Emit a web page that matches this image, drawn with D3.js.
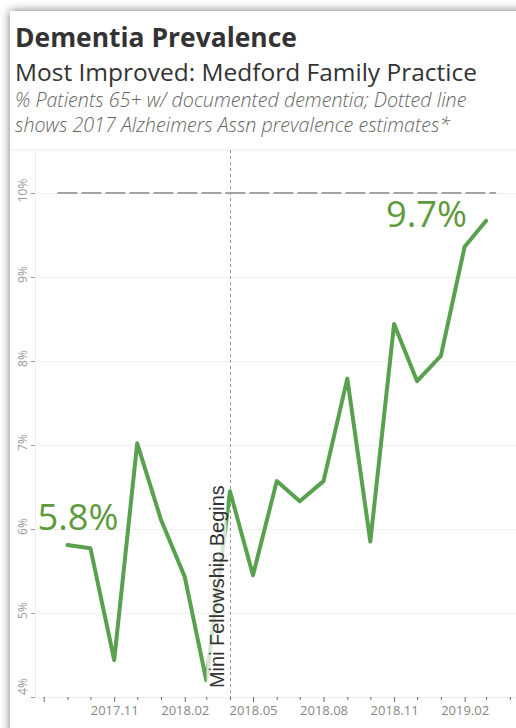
<!DOCTYPE html>
<meta charset="utf-8">
<script src="https://d3js.org/d3.v7.min.js"></script>
<style>
    body { margin: 0; background: #fff; overflow: hidden; }
    #card {
        position: absolute; left: 10px; top: 11px; width: 540px; height: 760px;
        background: #fff; box-shadow: 0 0 9px rgba(0,0,0,0.55);
    }
    #vis { position: absolute; left: 0; top: 0; }
</style>
<div id="card"></div>
<div id="vis"></div>
<script>
    // data
    var months = ["2017-09", "2017-10", "2017-11", "2017-12", "2018-01", "2018-02", "2018-03",
        "2018-04", "2018-05", "2018-06", "2018-07", "2018-08", "2018-09", "2018-10", "2018-11",
        "2018-12", "2019-01", "2019-02", "2019-03"];
    var prevalence = [5.81, 5.77, 4.44, 7.02, 6.11, 5.43, 4.20, 6.45, 5.45, 6.57, 6.33,
        6.57, 7.79, 5.85, 8.44, 7.76, 8.06, 9.36, 9.67];
    var yTicks = [4, 5, 6, 7, 8, 9, 10];
    var xLabels = ["2017.11", "2018.02", "2018.05", "2018.08", "2018.11", "2019.02"];
    var refValue = 10;                 // 2017 Alzheimers Assn estimate
    var eventMonth = "2018-04";
    var eventLabel = "Mini Fellowship Begins";

    var parse = d3.timeParse("%Y-%m");
    var fmt = d3.timeFormat("%Y.%m");
    var data = months.map(function (m, i) { return { date: parse(m), v: prevalence[i] }; });

    var W = 516, H = 728;
    var svg = d3.select("#vis").append("svg")
        .attr("width", W).attr("height", H)
        .style("font-family", "'Open Sans', sans-serif");

    // fit a text to a target width
    function fit(sel, w) {
        var fs = +sel.attr("font-size");
        var cur = sel.node().getComputedTextLength();
        sel.attr("font-size", (fs * w / cur).toFixed(2));
        return sel;
    }

    // titles
    fit(svg.append("text").attr("x", 15).attr("y", 47).attr("font-size", 26)
        .attr("font-weight", "bold").attr("fill", "#333").text("Dementia Prevalence"), 282);
    fit(svg.append("text").attr("x", 15).attr("y", 81).attr("font-size", 21)
        .attr("fill", "#333").text("Most Improved: Medford Family Practice"), 462);
    fit(svg.append("text").attr("x", 15).attr("y", 107).attr("font-size", 16)
        .attr("font-style", "italic").attr("font-weight", 300).attr("fill", "#666")
        .text("% Patients  65+ w/ documented dementia; Dotted line"), 452);
    fit(svg.append("text").attr("x", 15).attr("y", 132).attr("font-size", 16)
        .attr("font-style", "italic").attr("font-weight", 300).attr("fill", "#666")
        .text("shows 2017 Alzheimers Assn prevalence estimates*"), 435);

    // scales
    var x = d3.scaleTime()
        .domain([new Date(2017, 6, 22), new Date(2019, 3, 9)])
        .range([36, 516]);
    var y = d3.scaleLinear().domain([4, 10.5]).range([697, 151]);

    // separator / pane frame
    svg.append("line").attr("x1", 10).attr("x2", W).attr("y1", 150).attr("y2", 150)
        .attr("stroke", "#ececec");
    svg.append("line").attr("x1", 35.5).attr("x2", 35.5).attr("y1", 150).attr("y2", 697)
        .attr("stroke", "#ececec");
    svg.append("line").attr("x1", 36).attr("x2", W).attr("y1", 697.5).attr("y2", 697.5)
        .attr("stroke", "#ececec");

    // gridlines
    svg.append("g").selectAll("line").data(yTicks.slice(1)).enter().append("line")
        .attr("x1", 36).attr("x2", W)
        .attr("y1", function (d) { return Math.round(y(d)) + 0.5; })
        .attr("y2", function (d) { return Math.round(y(d)) + 0.5; })
        .attr("stroke", "#f0f0f0");

    // y axis
    var yAxis = svg.append("g").attr("transform", "translate(35,0)")
        .call(d3.axisLeft(y).tickValues(yTicks).tickSize(4).tickFormat(function (d) { return d + "%"; }));
    yAxis.select(".domain").remove();
    yAxis.selectAll(".tick line").attr("stroke", "#999");
    yAxis.selectAll(".tick text")
        .attr("fill", "#999").attr("font-size", 12).attr("font-family", "'Open Sans', sans-serif")
        .attr("text-anchor", "middle").attr("x", 0).attr("dy", 0)
        .attr("transform", function (d) { return "translate(-13," + (d === 4 ? -11 : -3) + ") rotate(-90)"; })
        .attr("dominant-baseline", "central");

    // x axis: monthly ticks, labelled every quarter
    var allMonths = d3.timeMonth.range(new Date(2017, 7, 1), new Date(2019, 4, 1));
    var isMajor = function (d) { return d.getMonth() % 3 === 1; };
    var xAxis = svg.append("g").attr("transform", "translate(0,697)")
        .call(d3.axisBottom(x).tickValues(allMonths).tickSize(4)
            .tickFormat(function (d) { return xLabels.indexOf(fmt(d)) >= 0 ? fmt(d) : ""; }));
    xAxis.select(".domain").remove();
    xAxis.selectAll(".tick line").attr("stroke", "#666")
        .attr("y2", function (d) { return isMajor(d) ? 5 : 3; });
    xAxis.selectAll(".tick text").attr("fill", "#888").attr("font-size", 13)
        .attr("font-family", "'Open Sans', sans-serif").attr("y", 9);

    // reference line (dotted)
    svg.append("line")
        .attr("x1", x(data[0].date) - 10).attr("x2", x(data[data.length - 1].date) + 10)
        .attr("y1", y(refValue)).attr("y2", y(refValue))
        .attr("stroke", "#a3a3a3").attr("stroke-width", 2).attr("stroke-dasharray", "20,4");

    // event line
    var ex = Math.round(x(parse(eventMonth))) + 0.5;
    svg.append("line").attr("x1", ex).attr("x2", ex).attr("y1", 150).attr("y2", 697)
        .attr("stroke", "#999").attr("stroke-dasharray", "3,3");

    // series
    var line = d3.line().x(function (d) { return x(d.date); }).y(function (d) { return y(d.v); });
    svg.append("path").datum(data).attr("d", line)
        .attr("fill", "none").attr("stroke", "#59a14f").attr("stroke-width", 4)
        .attr("stroke-linejoin", "round").attr("stroke-linecap", "round");

    // event label with translucent backing
    var lab = svg.append("g").attr("transform", "translate(" + (ex - 7) + ",688) rotate(-90)");
    var bg = lab.append("rect").attr("fill", "#fff").attr("fill-opacity", 0.75);
    var lt = lab.append("text").attr("font-size", 15).attr("fill", "#333")
        .attr("font-family", "'Liberation Sans', Arial, sans-serif").text(eventLabel);
    fit(lt, 203);
    var bb = lt.node().getBBox();
    bg.attr("x", bb.x - 1).attr("y", bb.y + 1).attr("width", bb.width + 2).attr("height", bb.height - 2);

    // end labels
    var first = data[0], last = data[data.length - 1];
    fit(svg.append("text").attr("x", x(first.date) - 30).attr("y", y(first.v) - 15)
        .attr("font-size", 32).attr("fill", "#5e9a3c")
        .text(first.v.toFixed(1) + "%"), 81);
    fit(svg.append("text").attr("x", x(last.date) - 100).attr("y", y(last.v) + 6)
        .attr("font-size", 32).attr("fill", "#5e9a3c")
        .text(last.v.toFixed(1) + "%"), 81);
</script>
